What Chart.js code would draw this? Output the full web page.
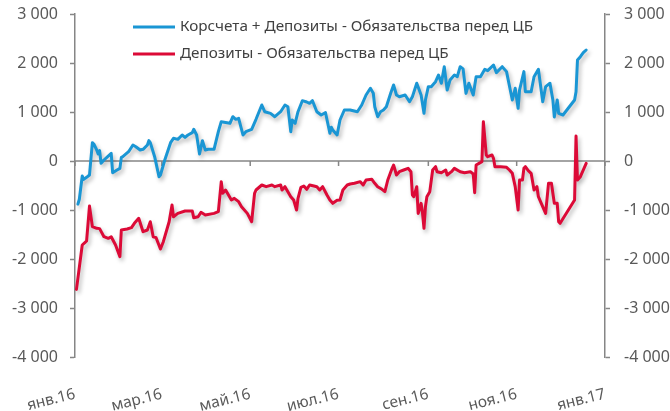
<!DOCTYPE html>
<html><head><meta charset="utf-8">
<script src="https://cdn.jsdelivr.net/npm/chart.js@4.4.1/dist/chart.umd.min.js"></script>
<style>html,body{margin:0;padding:0;background:#fff;}#wrap{width:670px;height:411px;position:relative;}</style>
</head><body><div id="wrap"><canvas id="c" width="670" height="411"></canvas></div>
<script>
// ---- data (x = day offset from 1 Jan 2016) ----
const seriesNames = ['Корсчета + Депозиты - Обязательства перед ЦБ', 'Депозиты - Обязательства перед ЦБ'];
const tickDays = [0, 60, 121, 182, 244, 305, 366];
const tickLabels = ['янв.16', 'мар.16', 'май.16', 'июл.16', 'сен.16', 'ноя.16', 'янв.17'];

const blueDays = [2,3,5,6,8,10,12,13,15,16,17,18,20,22,25,26,29,31,32,33,37,40,42,45,47,50,51,52,55,58,59,62,66,68,71,74,76,78,81,82,84,86,88,90,92,96,99,101,105,107,109,111,113,116,118,122,125,129,131,135,138,142,145,147,149,150,152,154,157,160,162,164,167,170,173,176,177,178,181,183,186,190,195,198,201,204,206,207,209,211,213,215,218,220,222,224,228,231,233,236,239,241,242,244,246,249,251,253,255,257,259,262,264,266,268,270,272,275,277,280,283,285,289,291,295,298,302,304,306,307,310,311,315,317,320,323,325,328,330,331,333,334,337,345,346,347,349,351,353];
const blueValues = [-880,-780,-306,-375,-333,-286,374,347,225,143,211,-48,20,75,156,-238,-184,-150,75,88,190,327,292,225,238,327,415,374,88,-320,-286,20,374,463,442,531,483,531,578,647,531,143,415,225,238,238,598,802,782,769,904,851,871,531,598,647,851,1143,1006,973,904,1006,1143,1108,598,837,769,1006,1231,1204,1177,1231,1006,939,986,565,688,633,531,837,1041,1041,1006,1143,1347,1484,1382,1108,904,1006,1041,1108,1382,1551,1347,1312,1347,1210,1312,1586,1347,973,1245,1517,1517,1619,1755,1586,1925,1449,1653,1755,1721,1925,1880,1380,1586,1347,1721,1721,1871,1844,1959,1803,1925,1824,1245,1484,1075,1449,1824,1414,1414,1721,1871,1210,1517,1586,1245,900,1245,973,939,1245,1414,2061,2129,2210,2265];

const redDays = [1,5,7,8,10,12,15,17,20,23,25,28,31,32,36,39,41,44,47,50,52,54,56,59,61,65,67,68,71,76,81,82,85,87,90,96,99,101,102,104,106,108,110,113,115,119,122,124,125,129,132,136,138,142,143,145,147,149,151,153,154,156,158,160,162,165,167,169,171,174,176,178,181,183,185,188,190,193,197,199,201,205,207,209,212,214,216,219,220,222,224,227,230,232,233,234,236,237,239,240,241,242,243,245,247,249,250,253,256,257,260,262,266,269,273,275,276,277,279,281,282,284,285,288,289,290,294,298,300,302,304,306,307,309,310,311,313,315,317,319,320,322,325,327,329,331,333,334,335,345,346,347,349,353];
const redValues = [-2620,-1714,-1660,-1633,-920,-1340,-1374,-1380,-1545,-1578,-1545,-1714,-1953,-1408,-1388,-1361,-1272,-1170,-1443,-1408,-1239,-1545,-1565,-1796,-1647,-1239,-898,-1137,-1069,-1020,-1020,-1157,-1137,-1047,-1102,-1069,-1035,-422,-660,-592,-694,-796,-762,-830,-932,-1069,-1239,-660,-592,-490,-524,-490,-524,-490,-592,-524,-626,-728,-796,-1000,-762,-537,-510,-578,-490,-510,-524,-592,-524,-694,-796,-864,-800,-796,-592,-490,-469,-455,-422,-490,-388,-374,-455,-524,-578,-626,-388,-150,-82,-286,-218,-184,-150,-218,-694,-728,-524,-1069,-864,-1069,-1374,-932,-728,-626,-184,-116,-218,-238,-184,-286,-218,-150,-218,-238,-218,-265,-646,-82,-48,-14,802,122,88,122,54,-116,-116,-129,-184,-252,-524,-1000,-388,-388,-150,-116,-197,-252,-592,-524,-728,-864,-1069,-455,-455,-864,-864,-1239,-1272,-796,510,-388,-320,-48];

const yMin = -4000, yMax = 3000, yStep = 1000;
const colors = ['#1a96d4', '#dc0a37'];

// ---- helpers ----
const pts = (xs, ys) => xs.map((x, i) => ({x: x, y: ys[i]}));
const fmt = v => {
  const s = Math.abs(v).toString().replace(/\B(?=(\d{3})+(?!\d))/g, ' ');
  return (v < 0 ? '-' : '') + s;
};
const FONT = "'Noto Sans', 'DejaVu Sans', sans-serif";
const AX = '#868686';

const shadowPlugin = {
  id: 'shadow',
  beforeDatasetDraw(chart) {
    const ctx = chart.ctx; ctx.save();
    ctx.shadowColor = 'rgba(0,0,0,0.28)'; ctx.shadowBlur = 4;
    ctx.shadowOffsetX = 2; ctx.shadowOffsetY = 3;
  },
  afterDatasetDraw(chart) { chart.ctx.restore(); }
};

const zeroLinePlugin = {
  id: 'zeroLine',
  beforeDatasetsDraw(chart) {
    const ctx = chart.ctx, a = chart.chartArea, xs = chart.scales.x, ys = chart.scales.y;
    const y0 = ys.getPixelForValue(0);
    ctx.save(); ctx.strokeStyle = AX; ctx.lineWidth = 1.5;
    ctx.beginPath(); ctx.moveTo(a.left, y0); ctx.lineTo(a.right, y0);
    tickDays.forEach(d => { const x = xs.getPixelForValue(d); ctx.moveTo(x, y0); ctx.lineTo(x, y0 + 5); });
    ctx.stroke(); ctx.restore();
  }
};

const legendPlugin = {
  id: 'innerLegend',
  afterDraw(chart) {
    const ctx = chart.ctx, a = chart.chartArea;
    ctx.save();
    ctx.font = "15.25px " + FONT; ctx.textBaseline = 'middle'; ctx.textAlign = 'left';
    chart.data.datasets.forEach((ds, i) => {
      const y = a.top + 13 + i * 27, x0 = a.left + 58;
      ctx.strokeStyle = ds.borderColor; ctx.lineWidth = 3;
      ctx.beginPath(); ctx.moveTo(x0, y); ctx.lineTo(x0 + 42, y); ctx.stroke();
      ctx.fillStyle = '#404040'; ctx.fillText(ds.label, x0 + 47, y);
    });
    ctx.restore();
  }
};

const yAxis = (pos, w) => ({
  type: 'linear', position: pos, min: yMin, max: yMax,
  ticks: { stepSize: yStep, color: '#595959', font: { family: FONT, size: 16 }, padding: pos === 'left' ? 12 : 14, callback: v => fmt(v) },
  grid: { drawOnChartArea: false, tickLength: 5, color: AX, tickColor: AX, tickWidth: 1.5 },
  border: { display: true, color: AX, width: 1.5 },
  afterFit: s => { s.width = w; s.paddingTop = 0; s.paddingBottom = 0; }
});

new Chart(document.getElementById('c'), {
  type: 'line',
  data: {
    datasets: [
      { label: seriesNames[0], data: pts(blueDays, blueValues), borderColor: colors[0], backgroundColor: colors[0], yAxisID: 'y' },
      { label: seriesNames[1], data: pts(redDays, redValues), borderColor: colors[1], backgroundColor: colors[1], yAxisID: 'y' }
    ]
  },
  options: {
    responsive: false, devicePixelRatio: 1, animation: false,
    layout: { padding: { top: 14, left: 0, right: 0, bottom: 0 } },
    elements: { line: { borderWidth: 3, tension: 0, borderJoinStyle: 'round', borderCapStyle: 'round' }, point: { radius: 0 } },
    plugins: { legend: { display: false }, tooltip: { enabled: false } },
    scales: {
      x: {
        type: 'linear', min: tickDays[0], max: tickDays[tickDays.length - 1],
        afterBuildTicks: s => { s.ticks = tickDays.map(v => ({ value: v })); },
        ticks: { autoSkip: false, minRotation: 14, maxRotation: 14, padding: 20, color: '#595959', font: { family: FONT, size: 15.5 },
          callback: v => tickLabels[tickDays.indexOf(v)] },
        grid: { display: false }, border: { display: false },
        afterFit: s => { s.height = 54; s.paddingLeft = 0; s.paddingRight = 0; }
      },
      y: yAxis('left', 75),
      y2: yAxis('right', 65)
    }
  },
  plugins: [shadowPlugin, zeroLinePlugin, legendPlugin]
});
</script></body></html>
